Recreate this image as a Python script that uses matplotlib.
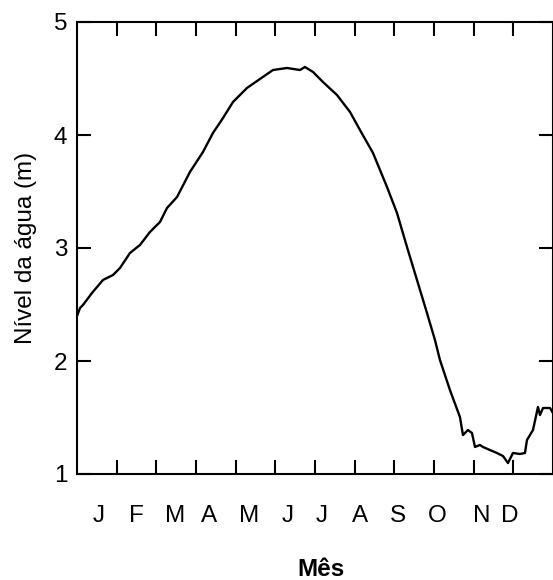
import matplotlib
matplotlib.use("Agg")
import matplotlib.pyplot as plt
import matplotlib.transforms as mtransforms

plt.rcParams['font.family'] = ['Liberation Sans', 'DejaVu Sans']

# Time in months since 1 January, water level in metres
month = [0.0, 0.076, 0.151, 0.378, 0.655, 0.907, 1.084, 1.336, 1.588, 1.840,
         2.092, 2.269, 2.521, 2.848, 3.176, 3.428, 3.680, 3.932, 4.285, 4.613,
         4.940, 5.293, 5.621, 5.747, 5.949, 6.201, 6.554, 6.882, 7.134, 7.462,
         7.815, 8.067, 8.319, 8.571, 8.823, 9.024, 9.150, 9.402, 9.654, 9.730,
         9.856, 9.957, 10.033, 10.159, 10.235, 10.411, 10.587, 10.739, 10.865, 10.991,
         11.167, 11.293, 11.344, 11.495, 11.621, 11.672, 11.748, 11.924, 12.0]
level = [2.398, 2.469, 2.496, 2.602, 2.717, 2.761, 2.823, 2.956, 3.027, 3.142,
         3.230, 3.354, 3.451, 3.673, 3.850, 4.018, 4.150, 4.292, 4.416, 4.496,
         4.575, 4.593, 4.575, 4.602, 4.558, 4.469, 4.354, 4.204, 4.044, 3.841,
         3.540, 3.310, 3.009, 2.717, 2.425, 2.186, 2.009, 1.743, 1.504, 1.345,
         1.389, 1.363, 1.239, 1.257, 1.239, 1.212, 1.186, 1.159, 1.097, 1.186,
         1.177, 1.186, 1.301, 1.389, 1.593, 1.522, 1.584, 1.584, 1.540]

month_labels = ['J', 'F', 'M', 'A', 'M', 'J', 'J', 'A', 'S', 'O', 'N', 'D']
month_ticks = list(range(1, 12))
y_ticks = [1, 2, 3, 4, 5]

# layout: label positions (in month units)
label_pos = [0.55, 1.49, 2.47, 3.32, 4.33, 5.31, 6.17, 7.13, 8.09, 9.07, 10.2, 10.9]

FS = 17.5

fig = plt.figure(figsize=(5.53, 5.80), dpi=100)
ax = fig.add_axes([77/553, 1 - 474/580, 1 - 77/553, (474 - 22)/580])

ax.plot(month, level, color='black', lw=1.7, solid_joinstyle='round')

ax.set_xlim(0, 12)
ax.set_ylim(1, 5)

ax.set_xticks(month_ticks)
ax.set_xticklabels([])
ax.set_yticks(y_ticks)

ax.tick_params(axis='both', which='major', direction='in', length=10, width=1.5,
               top=True, right=True, labelsize=FS, pad=7)

trans = mtransforms.blended_transform_factory(ax.transData, ax.transAxes)
for p, lab in zip(label_pos, month_labels):
    ax.text(p, -42/452, lab, transform=trans, ha='center', va='center',
            fontsize=FS, clip_on=False)

for s in ax.spines.values():
    s.set_linewidth(1.5)

ax.set_ylabel('Nível da água (m)', fontsize=FS, labelpad=12)
fig.text(321/553, 1 - 570/580, 'Mês', ha='center', va='center',
         fontsize=FS, fontweight='bold')

fig.savefig('out.png', dpi=100)
